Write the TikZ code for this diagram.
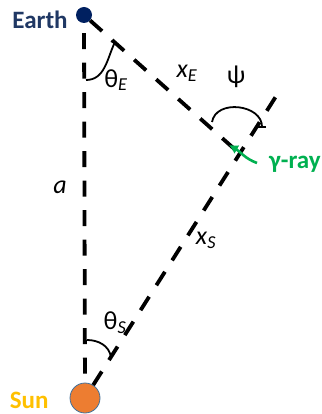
\documentclass[tikz,border=0pt]{standalone}
\usepackage{fontspec}
\setmainfont{Carlito}
\usetikzlibrary{arrows.meta, positioning}

\definecolor{earthblue}{HTML}{002060}
\definecolor{earthtext}{HTML}{203864}
\definecolor{sunorange}{HTML}{ED7D31}
\definecolor{sunedge}{HTML}{41719C}
\definecolor{sunyellow}{HTML}{FFC000}
\definecolor{raygreen}{HTML}{00B050}

\begin{document}
\begin{tikzpicture}[
  x=1pt, y=1pt,
  planet/.style={circle, inner sep=0pt},
  pname/.style={inner sep=0pt, font=\fontsize{25}{30}\selectfont\bfseries},
  lbl/.style={inner sep=0pt, font=\fontsize{26}{31}\selectfont},
  dline/.style={line width=3.8pt, dash pattern=on 16pt off 13.5pt},
  angarc/.style={line width=1.8pt},
  ray/.style={raygreen, line width=2.6pt, -{Latex[length=9pt, width=10pt]}}
]
\useasboundingbox (0,0) rectangle (321,-414);

\coordinate (cross) at (240,-154);
\coordinate (top) at (280,-90);
\coordinate (raytail) at (257,-163);
\coordinate (raytip) at (229,-145);

\node[planet, fill=earthblue, minimum size=16pt] (earth) at (84,-15) {};
\node[planet, fill=sunorange, draw=sunedge, line width=0.8pt, minimum size=30pt] (sun) at (85,-398) {};

\node[pname, text=earthtext, left=8pt of earth, yshift=-4.5pt] (earthname) {Earth};
\node[pname, text=sunyellow, left=21pt of sun, yshift=-2.5pt] (sunname) {Sun};

% the three sides of the triangle
\draw[dline, dash phase=19.5pt] (earth) -- (sun);
\draw[dline] (earth) -- (cross);
\draw[dline] (sun) -- (top);

% angle marks
\draw[angarc, -{Bar[width=8pt]}] (86,-80) to[out=0, in=245] (115,-42);
\draw[angarc, -{Bar[width=8pt]}] (212,-122) to[out=80, in=90, looseness=1.2] (262,-128);
\draw[angarc] (87,-340) to[out=0, in=100] (111,-357);

\node[lbl] (thetaE) at (116,-80) {θ\textsubscript{\textit{E}}};
\node[lbl] (xE) at (187,-73) {\textit{x}\textsubscript{\textit{E}}};
\node[lbl] (psi) at (236,-77) {ψ};
\node[lbl] (a) at (60,-187) {\textit{a}};
\node[lbl] (xS) at (206,-240) {\textit{x}\textsubscript{\textit{S}}};
\node[lbl] (thetaS) at (115,-323) {θ\textsubscript{\textit{S}}};

% gamma-ray
\draw[ray] (raytail) to[out=160, in=-30] (raytip);
\node[pname, text=raygreen, anchor=west] (gray) at (269,-164) {γ-ray};
\end{tikzpicture}
\end{document}
